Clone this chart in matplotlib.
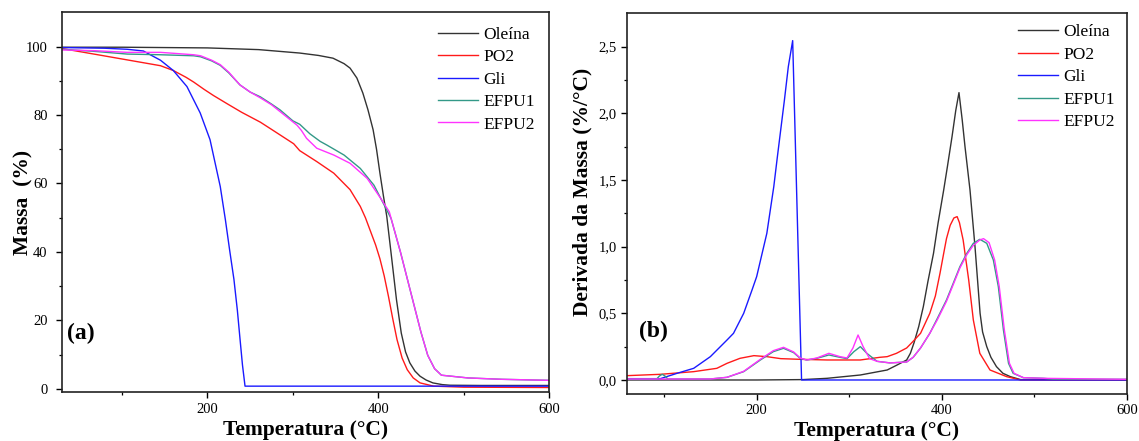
import matplotlib
matplotlib.use('Agg')
import matplotlib.pyplot as plt

plt.rcParams['font.family'] = ['Liberation Serif', 'DejaVu Serif']

seriesNames = ['Oleína', 'PO2', 'Gli', 'EFPU1', 'EFPU2']
seriesColors = ['#333333', '#ff1a1a', '#1a1aff', '#339988', '#ff33ff']

# (a) TGA - mass (%) vs temperature
oleinaTempA = [30, 100, 200, 260, 308, 330, 347, 360, 367, 375, 382, 388, 394, 398, 402, 406, 410, 415.5, 421.4, 427, 432, 437, 443, 449, 456, 464, 475, 484, 520, 600]
oleinaMass = [99.8, 99.8, 99.6, 99.1, 98.1, 97.4, 96.6, 95.0, 93.7, 90.8, 86.4, 81.5, 75.7, 70.0, 63.0, 56.5, 50.4, 38.7, 26.0, 16.3, 10.8, 7.6, 5.2, 3.7, 2.6, 1.75, 1.25, 1.07, 1.0, 1.0]

po2TempA = [30, 67, 106, 145, 160, 175, 184, 196, 207, 223, 240, 262, 280, 301, 308, 328, 348, 367, 379, 385, 391, 397, 402, 407, 412, 417, 422, 428, 434, 441, 449, 465, 500, 600]
po2Mass = [99.4, 97.8, 96.1, 94.4, 93.0, 91.0, 89.6, 87.5, 85.7, 83.3, 80.8, 77.9, 75.0, 71.6, 69.6, 66.4, 63.0, 58.2, 53.3, 50.0, 46.0, 42.0, 38.0, 33.0, 27.0, 20.5, 14.4, 9.0, 5.6, 3.2, 1.75, 0.8, 0.5, 0.4]

gliTempA = [30, 80, 106, 125, 133, 145, 160, 176, 191.5, 203, 215, 221, 226, 231, 235, 238.2, 241, 244, 270, 600]
gliMass = [99.7, 99.5, 99.2, 98.7, 97.6, 96.0, 93.0, 88.3, 80.6, 72.8, 59.1, 49.4, 40.5, 32.0, 23.0, 14.4, 7.0, 0.8, 0.8, 0.8]

efpu1TempA = [30, 67, 106, 145, 184, 192, 205, 215, 225, 238, 250, 262, 275, 285, 300, 308, 320, 332, 340, 360, 379, 395, 407, 415, 426, 438, 450, 458, 466, 474, 505, 545, 600]
efpu1Mass = [99.2, 98.6, 97.8, 97.6, 97.3, 97.0, 95.8, 94.5, 92.3, 88.8, 86.7, 85.3, 83.2, 81.5, 78.3, 77.3, 74.5, 72.3, 71.2, 68.3, 64.4, 59.5, 53.7, 49.8, 40.0, 28.3, 16.6, 9.8, 5.9, 4.0, 3.2, 2.8, 2.5]

efpu2TempA = [30, 67, 106, 145, 184, 192, 205, 215, 225, 238, 250, 262, 275, 285, 300, 305, 310, 316, 328, 348, 367, 387, 403, 413, 426, 438, 450, 458, 466, 474, 505, 545, 600]
efpu2Mass = [99.0, 98.8, 98.3, 98.3, 97.6, 97.3, 96.0, 94.7, 92.5, 88.8, 86.7, 85.0, 83.0, 81.0, 78.0, 77.0, 75.5, 73.2, 70.3, 68.3, 65.9, 61.5, 55.6, 51.7, 40.0, 28.3, 16.6, 9.8, 5.9, 4.0, 3.2, 2.8, 2.5]

# (b) DTG - derivative of mass (%/°C) vs temperature
oleinaTempB = [60, 200, 250, 276, 312, 341, 351, 362, 366, 370, 375, 380, 385, 391, 396, 402, 406, 411, 415, 418.5, 422, 425, 430.4, 435.8, 441.3, 444, 448.5, 453, 459, 466, 474, 485, 600]
oleinaDeriv = [0.0, 0.0, 0.003, 0.0125, 0.0375, 0.075, 0.11, 0.15, 0.2, 0.28, 0.4, 0.55, 0.74, 0.95, 1.18, 1.425, 1.6, 1.825, 2.02, 2.155, 1.95, 1.75, 1.425, 1.0, 0.5, 0.36, 0.25, 0.17, 0.1, 0.05, 0.025, 0.003, 0.0]

po2TempB = [60, 96, 132, 157, 168, 182, 197, 211, 226, 247, 276, 312, 333, 341, 351, 362, 369, 377, 387, 393, 398, 402, 405, 409, 413, 416.5, 419, 423, 429, 434, 441, 452, 470, 485, 600]
po2Deriv = [0.0325, 0.0425, 0.0625, 0.0875, 0.125, 0.1625, 0.1825, 0.175, 0.16, 0.155, 0.15, 0.15, 0.17, 0.175, 0.2, 0.24, 0.29, 0.35, 0.5, 0.63, 0.8, 0.95, 1.06, 1.16, 1.215, 1.225, 1.18, 1.05, 0.75, 0.45, 0.2, 0.075, 0.025, 0.0, 0.0]

gliTempB = [60, 96, 114, 132, 150, 168, 175, 186, 195, 200, 211, 218.5, 222.4, 230, 234.2, 238.9, 248.5, 600]
gliDeriv = [0.01, 0.01, 0.05, 0.0875, 0.175, 0.3, 0.35, 0.5, 0.675, 0.775, 1.1, 1.45, 1.675, 2.1, 2.35, 2.545, 0.0, 0.0]

efpu1TempB = [60, 92, 95, 98, 101, 104, 150, 168, 186, 204, 218, 229, 240, 247, 254, 265, 278, 290, 297.6, 305, 312, 319, 330, 344, 362, 369, 377, 387, 395, 405, 412, 419.5, 427, 434, 441, 448.5, 455.6, 461, 466.5, 472, 477, 488, 510, 520, 600]
efpu1Deriv = [0.0075, 0.0075, 0.03, 0.0425, 0.03, 0.0075, 0.0075, 0.02, 0.0625, 0.15, 0.2125, 0.2375, 0.205, 0.1625, 0.15, 0.1625, 0.1875, 0.17, 0.16, 0.2125, 0.25, 0.2, 0.14, 0.128, 0.135, 0.17, 0.24, 0.35, 0.46, 0.6, 0.72, 0.85, 0.95, 1.025, 1.055, 1.025, 0.9, 0.7, 0.375, 0.125, 0.05, 0.0175, 0.0125, 0.006, 0.005]

efpu2TempB = [60, 150, 168, 186, 204, 218, 229, 240, 247, 254, 265, 278, 290, 297.6, 304, 309.5, 315, 322, 330, 344, 362, 369, 377, 387, 395, 405, 412, 419.5, 427, 434, 441, 445, 451, 457, 462, 467.5, 473, 478, 488, 510, 600]
efpu2Deriv = [0.0075, 0.0075, 0.02, 0.065, 0.155, 0.22, 0.245, 0.21, 0.165, 0.15, 0.165, 0.2, 0.175, 0.165, 0.24, 0.3375, 0.25, 0.16, 0.14, 0.128, 0.135, 0.17, 0.24, 0.35, 0.45, 0.59, 0.71, 0.84, 0.94, 1.01, 1.05, 1.06, 1.03, 0.9, 0.7, 0.375, 0.125, 0.05, 0.0175, 0.0125, 0.005]

massTicks = [0, 20, 40, 60, 80, 100]
derivTicks = [0.0, 0.5, 1.0, 1.5, 2.0, 2.5]
derivTickLabels = ['0,0', '0,5', '1,0', '1,5', '2,0', '2,5']
tempTicks = [200, 400, 600]


def styleAxes(ax):
	for spine in ax.spines.values():
		spine.set_linewidth(1.2)
		spine.set_color('#222222')
	ax.tick_params(which='major', direction='out', length=4.5, width=1.0, labelsize=10.5, pad=3)
	ax.tick_params(which='minor', direction='out', length=2.5, width=0.9)


fig = plt.figure(figsize=(11.39, 4.41), dpi=100)

# ---- (a) ----
axA = fig.add_axes([0.0547, 0.1104, 0.4273, 0.8617])
tgaData = [(oleinaTempA, oleinaMass), (po2TempA, po2Mass), (gliTempA, gliMass),
	(efpu1TempA, efpu1Mass), (efpu2TempA, efpu2Mass)]
for (temps, values), name, color in zip(tgaData, seriesNames, seriesColors):
	axA.plot(temps, values, color=color, lw=1.0, label=name)
axA.set_xlim(30, 600)
axA.set_ylim(-1, 110)
axA.set_xticks(tempTicks)
axA.set_xticks([100, 300, 500], minor=True)
axA.set_yticks(massTicks)
axA.set_yticks([10, 30, 50, 70, 90], minor=True)
styleAxes(axA)
axA.tick_params(axis='y', which='major', pad=6)
axA.set_xlabel('Temperatura (°C)', fontsize=15.5, fontweight='bold')
axA.set_ylabel('Massa  (%)', fontsize=15.5, fontweight='bold')
axA.xaxis.set_label_coords(0.5, -0.1)
axA.xaxis.label.set_va('center')
axA.yaxis.set_label_coords(-0.08, 0.5)
axA.yaxis.label.set_va('center')
axA.text(0.01, 0.156, '(a)', transform=axA.transAxes, fontsize=17, fontweight='bold', ha='left', va='center')
axA.legend(loc='upper left', bbox_to_anchor=(0.772, 0.962), frameon=False, fontsize=12.5,
	handlelength=2.3, handletextpad=0.3, labelspacing=0.36, borderpad=0, borderaxespad=0)

# ---- (b) ----
axB = fig.add_axes([0.5505, 0.1066, 0.439, 0.8633])
dtgData = [(oleinaTempB, oleinaDeriv), (po2TempB, po2Deriv), (gliTempB, gliDeriv),
	(efpu1TempB, efpu1Deriv), (efpu2TempB, efpu2Deriv)]
for (temps, values), name, color in zip(dtgData, seriesNames, seriesColors):
	axB.plot(temps, values, color=color, lw=1.0, label=name)
axB.set_xlim(60, 600)
axB.set_ylim(-0.105, 2.75)
axB.set_xticks(tempTicks)
axB.set_xticks([100, 300, 500], minor=True)
axB.set_yticks(derivTicks)
axB.set_yticklabels(derivTickLabels)
axB.set_yticks([0.25, 0.75, 1.25, 1.75, 2.25], minor=True)
styleAxes(axB)
axB.set_xlabel('Temperatura (°C)', fontsize=15.5, fontweight='bold')
axB.set_ylabel('Derivada da Massa (%/°C)', fontsize=15.5, fontweight='bold')
axB.xaxis.set_label_coords(0.5, -0.097)
axB.xaxis.label.set_va('center')
axB.yaxis.set_label_coords(-0.0886, 0.53)
axB.yaxis.label.set_va('center')
axB.text(0.024, 0.163, '(b)', transform=axB.transAxes, fontsize=17, fontweight='bold', ha='left', va='center')
axB.legend(loc='upper left', bbox_to_anchor=(0.782, 0.971), frameon=False, fontsize=12.5,
	handlelength=2.3, handletextpad=0.3, labelspacing=0.36, borderpad=0, borderaxespad=0)

plt.savefig('out.png', dpi=100)
